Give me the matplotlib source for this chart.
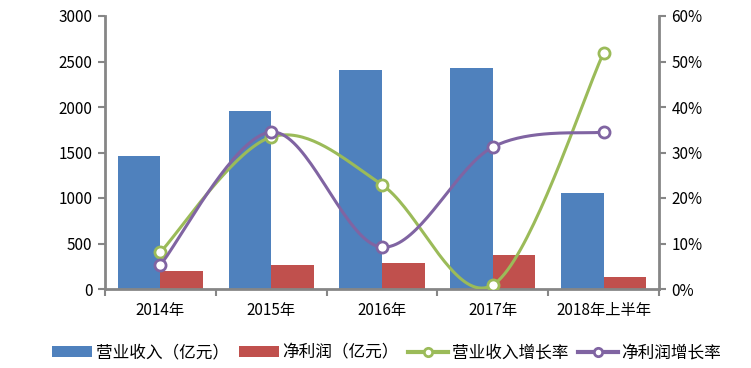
import numpy as np
import matplotlib
matplotlib.use('Agg')
import matplotlib.pyplot as plt
from matplotlib.ticker import FuncFormatter

plt.rcParams['font.family'] = ['Noto Sans CJK SC', 'DejaVu Sans']

# 数据
years = ['2014年', '2015年', '2016年', '2017年', '2018年上半年']
revenue = [1462, 1956, 2407, 2431, 1056]        # 营业收入（亿元）
profit = [198, 264, 286, 374, 132]              # 净利润（亿元）
revenue_growth = [8.1, 33.4, 22.9, 0.9, 51.9]   # 营业收入增长率 %
profit_growth = [5.3, 34.5, 9.2, 31.2, 34.5]    # 净利润增长率 %

c_blue, c_red, c_green, c_purple = '#4F81BD', '#C0504D', '#9BBB59', '#8064A2'
spine_c = '#868686'


def smooth(x, y, n=40):
    # Excel 风格平滑线 (Catmull-Rom)
    x = np.asarray(x, float)
    y = np.asarray(y, float)
    px = np.concatenate([[x[0]], x, [x[-1]]])
    py = np.concatenate([[y[0]], y, [y[-1]]])
    xs, ys = [], []
    t = np.linspace(0, 1, n)
    for i in range(1, len(px) - 2):
        p0, p1, p2, p3 = [np.array([px[j], py[j]]) for j in (i - 1, i, i + 1, i + 2)]
        c1 = p1 + (p2 - p0) / 6
        c2 = p2 - (p3 - p1) / 6
        pts = ((1 - t) ** 3)[:, None] * p1 + (3 * (1 - t) ** 2 * t)[:, None] * c1 \
            + (3 * (1 - t) * t ** 2)[:, None] * c2 + (t ** 3)[:, None] * p2
        xs.extend(pts[:, 0])
        ys.extend(pts[:, 1])
    return np.array(xs), np.array(ys)


fig = plt.figure(figsize=(7.51, 3.68), dpi=100)
ax = fig.add_axes([105 / 751, 1 - 289 / 368, (659 - 105) / 751, (289 - 16) / 368])
ax2 = ax.twinx()

x = np.arange(len(years))
w = 0.385
ax.bar(x - w / 2, revenue, w, color=c_blue, label='营业收入（亿元）', zorder=2)
ax.bar(x + w / 2, profit, w, color=c_red, label='净利润（亿元）', zorder=2)

for vals, col, lab in [(revenue_growth, c_green, '营业收入增长率'),
                       (profit_growth, c_purple, '净利润增长率')]:
    sx, sy = smooth(x, vals)
    ax2.plot(sx, sy, color=col, lw=2.2, solid_capstyle='round')
    ax2.plot(x, vals, 'o', color=col, mfc='white', mec=col, ms=8, mew=2)
    ax2.plot([], [], '-o', color=col, mfc='white', mec=col, ms=6, mew=2, lw=3, label=lab)

ax.set_xlim(-0.5, len(years) - 0.5)
ax.set_ylim(0, 3000)
ax.set_yticks(range(0, 3001, 500))
ax2.set_ylim(0, 60)
ax2.set_yticks(range(0, 61, 10))
ax2.yaxis.set_major_formatter(FuncFormatter(lambda v, p: f'{v:.0f}%'))

ax.set_xticks(np.arange(-0.5, len(years), 1))
ax.set_xticklabels([])
ax.set_xticks(x, minor=True)
ax.set_xticklabels(years, minor=True, fontsize=11)
ax.tick_params(axis='x', which='minor', length=0, pad=9)
ax.tick_params(axis='x', which='major', length=5, width=1.5, color=spine_c, direction='out')

for a in (ax, ax2):
    for s in a.spines.values():
        s.set_visible(False)
ax.spines['left'].set_visible(True)
ax.spines['bottom'].set_visible(True)
ax2.spines['right'].set_visible(True)
for s in (ax.spines['left'], ax.spines['bottom'], ax2.spines['right']):
    s.set_color(spine_c)
    s.set_linewidth(2)

ax.tick_params(axis='y', length=5, width=1.5, color=spine_c, labelsize=11, pad=4)
ax2.tick_params(axis='y', length=5, width=1.5, color=spine_c, labelsize=11, pad=4)

h1, l1 = ax.get_legend_handles_labels()
h2, l2 = ax2.get_legend_handles_labels()
fig.legend(h1 + h2, l1 + l2, loc='center', bbox_to_anchor=(0.515, 1 - 353 / 368), ncol=4,
           frameon=False, fontsize=12, handlelength=2.4, handleheight=0.6,
           handletextpad=0.2, columnspacing=0.6)

fig.savefig('out.png', dpi=100)
